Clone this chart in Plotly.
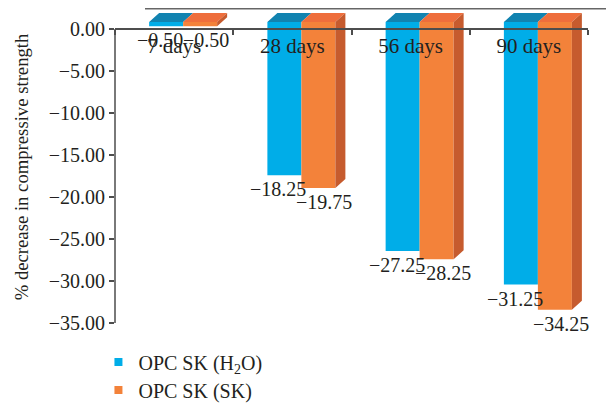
import plotly.graph_objects as go

# ---------------- data ----------------
CATEGORIES = ["7 days", "28 days", "56 days", "90 days"]
H2O_VALUES = [-0.50, -18.25, -27.25, -31.25]
SK_VALUES = [-0.50, -19.75, -28.25, -34.25]
SERIES_NAMES = ["OPC SK (H<sub>2</sub>O)", "OPC SK (SK)"]
Y_TICKS = [0, -5, -10, -15, -20, -25, -30, -35]
Y_TITLE = "% decrease in compressive strength"

# ---------------- style ----------------
PAGE_OFFSET = 8                    # default body margin of the html page
W, H = 614 - PAGE_OFFSET, 404 - PAGE_OFFSET
PLOT_L, PLOT_R = 115, 588          # plot area in window pixels
ZERO_Y, BOTTOM_Y = 29, 323         # pixel rows of 0 and -35 in the window
TOP_Y = 11                         # top of the plot area in the window
Y_MIN = -35
X_MIN, X_MAX = -0.5, 3.5
FONT = "Liberation Serif"
TXT = "#231f20"
AXC = "#4d4d4d"
BLUE, BLUE_TOP = "#00ade8", "#1183b0"
ORANGE, ORANGE_TOP, ORANGE_SIDE = "#f3823a", "#ee6e3c", "#c65b2e"

M_L = PLOT_L - PAGE_OFFSET
M_R = W - (PLOT_R - PAGE_OFFSET)
M_T = TOP_Y - PAGE_OFFSET
M_B = H - (BOTTOM_Y - PAGE_OFFSET)
plot_w = W - M_L - M_R
plot_h = H - M_T - M_B
px_y = (BOTTOM_Y - ZERO_Y) / (0 - Y_MIN)
Y_MAX = (ZERO_Y - TOP_Y) / px_y
px_x = plot_w / (X_MAX - X_MIN)

BAR_W = 34 / px_x          # bar width in category units
SHIFT_X = 9 / px_x         # 3-D depth shift of front faces
BASE = 7 / px_y
DX = 10 / px_x             # depth of top/side faces
DY = 9 / px_y
WALL_X0 = (145 - PLOT_L) / plot_w        # back wall top edge (paper units)
WALL_X1 = (614 - PLOT_L) / plot_w
WALL_Y = 1 + (M_T - 0.75) / plot_h
LEGEND_ROWS_PX = [362, 390]  # centre of each legend row (window pixels)
LEGEND_X = -0.035
LABEL_XSHIFT = [-6, 6]       # value labels spread apart like the original
LABEL_YSHIFT = -1


def fmt(vals):
    return [f"{v:.2f}".replace("-", "\u2212") for v in vals]


def paper_y(px):
    return (BOTTOM_Y - px) / plot_h


xs = list(range(len(CATEGORIES)))
series = [
    (H2O_VALUES, -BAR_W + SHIFT_X, BLUE, BLUE_TOP),
    (SK_VALUES, SHIFT_X, ORANGE, ORANGE_TOP),
]

fig = go.Figure()
for vals, off, col, _ in series:
    fig.add_trace(go.Bar(
        x=xs, y=vals, base=BASE, width=BAR_W, offset=off,
        marker=dict(color=col, line=dict(width=0)),
        cliponaxis=False, showlegend=False, hoverinfo="skip",
    ))


def poly_trace(px, py, color):
    return go.Scatter(x=px, y=py, mode="lines", fill="toself", fillcolor=color,
                      line=dict(width=0, color=color), showlegend=False,
                      hoverinfo="skip", cliponaxis=False)


# top faces
for vals, off, _, topc in series:
    px, py = [], []
    for i, v in zip(xs, vals):
        xl = i + off
        xr = xl + BAR_W
        px += [xl, xr, xr + DX, xl + DX, xl, None]
        py += [BASE, BASE, BASE + DY, BASE + DY, BASE, None]
    fig.add_trace(poly_trace(px, py, topc))

# side faces of the orange (front-right) bars
px, py = [], []
for i, v in zip(xs, SK_VALUES):
    xr = i + SHIFT_X + BAR_W
    px += [xr, xr + DX, xr + DX, xr, xr, None]
    py += [BASE, BASE + DY, BASE + v + DY, BASE + v, BASE, None]
fig.add_trace(poly_trace(px, py, ORANGE_SIDE))

# value labels below each bar end
annotations = []
for (vals, off, _, _), xsh in zip(series, LABEL_XSHIFT):
    for i, v, t in zip(xs, vals, fmt(vals)):
        annotations.append(dict(
            x=i + off + BAR_W / 2, y=BASE + v, xref="x", yref="y", text=t,
            showarrow=False, xanchor="center", yanchor="top",
            xshift=xsh, yshift=LABEL_YSHIFT,
            font=dict(family=FONT, size=20, color=TXT)))

# legend proxies (one legend per row to control spacing)
legend_ids = ["legend", "legend2"]
for name, col, lid in zip(SERIES_NAMES, [BLUE, ORANGE], legend_ids):
    fig.add_trace(go.Scatter(x=[None], y=[None], mode="markers", name=name,
                             legend=lid, hoverinfo="skip",
                             marker=dict(symbol="square", size=8, color=col)))

legend_common = dict(x=LEGEND_X, xanchor="left", yanchor="middle",
                     font=dict(family=FONT, size=20, color=TXT),
                     bgcolor="rgba(0,0,0,0)", borderwidth=0)

fig.update_layout(
    width=W, height=H, autosize=False,
    margin=dict(l=M_L, r=M_R, t=M_T, b=M_B, autoexpand=False),
    paper_bgcolor="white", plot_bgcolor="white",
    barmode="overlay",
    font=dict(family=FONT, size=20, color=TXT),
    annotations=annotations,
    legend=dict(y=paper_y(LEGEND_ROWS_PX[0]), **legend_common),
    legend2=dict(y=paper_y(LEGEND_ROWS_PX[1]), **legend_common),
    xaxis=dict(
        range=[X_MIN, X_MAX], tickmode="array", tickvals=xs, ticktext=CATEGORIES,
        ticks="", showgrid=False, zeroline=False, automargin=False,
        showline=True, linecolor=AXC, linewidth=1.5,
        anchor="free", position=(0 - Y_MIN) / (Y_MAX - Y_MIN),
        layer="above traces", ticklabelstandoff=-2,
        tickfont=dict(family=FONT, size=21, color=TXT),
        minor=dict(tickmode="array",
                   tickvals=[x - 0.5 for x in xs] + [xs[-1] + 0.5],
                   ticks="outside", ticklen=5, tickcolor=AXC, tickwidth=1.5,
                   showgrid=False),
    ),
    yaxis=dict(
        range=[Y_MIN, Y_MAX], tickmode="array", tickvals=Y_TICKS,
        tickformat=".2f", ticks="outside", ticklen=5, tickcolor=AXC, tickwidth=1.5,
        showgrid=False, zeroline=False, showline=False, automargin=False,
        tickfont=dict(family=FONT, size=20, color=TXT),
        title=dict(text=Y_TITLE, font=dict(family=FONT, size=18.7, color=TXT), standoff=15),
    ),
    shapes=[
        dict(type="line", xref="paper", yref="y", x0=0, x1=0, y0=0, y1=Y_MIN,
             line=dict(color=AXC, width=1.5)),
        dict(type="line", xref="paper", yref="paper", x0=WALL_X0, x1=WALL_X1,
             y0=WALL_Y, y1=WALL_Y, line=dict(color="#666666", width=1.5)),
    ],
)

fig.write_html("out.html")
